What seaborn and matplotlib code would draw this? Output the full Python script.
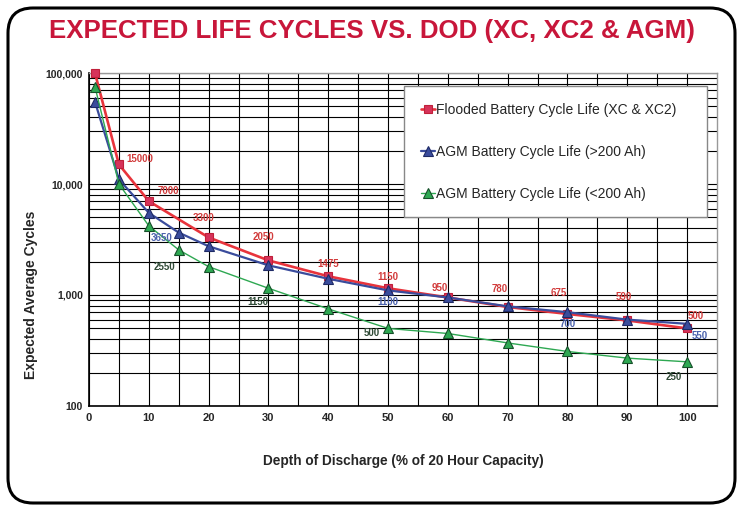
import numpy as np
import pandas as pd
import matplotlib.pyplot as plt
import seaborn as sns
from matplotlib.patches import FancyBboxPatch
from matplotlib.ticker import FixedLocator, FuncFormatter, LogLocator, NullFormatter

# data
dod_flooded = [1, 5, 10, 20, 30, 40, 50, 60, 70, 80, 90, 100]
cycles_flooded = [100000, 15000, 7000, 3300, 2050, 1475, 1150, 950, 780, 675, 590, 500]

dod_agm = [1, 5, 10, 15, 20, 30, 40, 50, 60, 70, 80, 90, 100]
cycles_agm_large = [55000, 11000, 5500, 3650, 2750, 1850, 1400, 1100, 950, 790, 700, 600, 550]
cycles_agm_small = [75000, 10000, 4200, 2550, 1800, 1150, 750, 500, 450, 370, 310, 270, 250]

series_names = ["Flooded Battery Cycle Life (XC & XC2)",
                "AGM Battery Cycle Life (>200 Ah)",
                "AGM Battery Cycle Life (<200 Ah)"]

# which points get a value label, and label offsets in pixels (dx, dy)
lab_flooded = {5: (21, 5), 10: (20, 10), 20: (-5, 19), 30: (-5, 23), 40: (0, 12),
               50: (0, 11), 60: (-8, 9), 70: (-8, 18), 80: (-9, 21), 90: (-3, 23),
               100: (9, 12)}
lab_large = {15: (-17, -5), 50: (0, -12), 80: (0, -12), 100: (13, -12)}
lab_small = {15: (-14, -17), 30: (-11, -14), 50: (-16, -5), 100: (-13, -15)}

df = pd.concat([
    pd.DataFrame({"dod": dod_flooded, "cycles": cycles_flooded, "series": series_names[0]}),
    pd.DataFrame({"dod": dod_agm, "cycles": cycles_agm_large, "series": series_names[1]}),
    pd.DataFrame({"dod": dod_agm, "cycles": cycles_agm_small, "series": series_names[2]}),
])

sns.set_style("white")
plt.rcParams["font.family"] = ["Liberation Sans", "DejaVu Sans"]

fig = plt.figure(figsize=(7.44, 5.11), dpi=100)
ax = fig.add_axes([89 / 744, 1 - 406 / 511, 628 / 744, 333 / 511])

styles = {
    series_names[0]: dict(color="#e8343c", marker="s", mfc="#d6335a", mec="#c0203a", lw=1.9, ms=5.5),
    series_names[1]: dict(color="#3a4c9c", marker="^", mfc="#3a4c9c", mec="#1e2a66", lw=1.6, ms=6.5),
    series_names[2]: dict(color="#2ea852", marker="^", mfc="#2ea852", mec="#16502a", lw=1.0, ms=6.5),
}
for name in series_names:
    st = styles[name]
    sub = df[df["series"] == name]
    sns.lineplot(data=sub, x="dod", y="cycles", ax=ax, color=st["color"], lw=st["lw"],
                 marker=st["marker"], markersize=st["ms"], markerfacecolor=st["mfc"],
                 markeredgecolor=st["mec"], markeredgewidth=0.8, label=name,
                 clip_on=False, zorder=3, legend=False)

ax.set_yscale("log")
ax.set_xlim(0, 105)
ax.set_ylim(100, 100000)

ax.xaxis.set_major_locator(FixedLocator(range(0, 101, 10)))
ax.xaxis.set_minor_locator(FixedLocator(range(5, 101, 10)))
ax.yaxis.set_major_locator(LogLocator(base=10))
ax.yaxis.set_minor_locator(LogLocator(base=10, subs=np.arange(2, 10)))
ax.yaxis.set_minor_formatter(NullFormatter())
ax.yaxis.set_major_formatter(FuncFormatter(lambda v, p: f"{int(v):,}"))

ax.grid(True, which="both", axis="both", color="black", lw=0.8, zorder=0)
ax.set_axisbelow(True)
ax.tick_params(axis="y", which="major", length=5, width=1, direction="inout", labelsize=7.5, pad=2)
ax.tick_params(axis="y", which="minor", length=0)
ax.tick_params(axis="x", which="major", length=4, width=1, direction="inout", labelsize=8, pad=3)
ax.tick_params(axis="x", which="minor", length=0)
for lab in ax.get_yticklabels() + ax.get_xticklabels():
    lab.set_fontweight("bold")

for sp in ["top", "right"]:
    ax.spines[sp].set_color("#999999")
    ax.spines[sp].set_linewidth(1.0)
for sp in ["left", "bottom"]:
    ax.spines[sp].set_color("black")
    ax.spines[sp].set_linewidth(1.2)

ax.set_xlabel("Depth of Discharge (% of 20 Hour Capacity)", fontsize=9.8, fontweight="bold",
              labelpad=22)
ax.set_ylabel("Expected Average Cycles", fontsize=10, fontweight="bold")
ax.yaxis.set_label_coords(-0.082, 0.335)


def put_labels(xs, ys, offsets, color):
    for x, y in zip(xs, ys):
        if x in offsets:
            dx, dy = offsets[x]
            ax.annotate(str(y), (x, y), xytext=(dx, dy), textcoords="offset pixels",
                        ha="center", va="center", fontsize=7, fontweight="bold",
                        color=color, zorder=4)


put_labels(dod_flooded, cycles_flooded, lab_flooded, "#d23c3c")
put_labels(dod_agm, cycles_agm_large, lab_large, "#4b62ad")
put_labels(dod_agm, cycles_agm_small, lab_small, "#2f4a36")

leg = ax.legend(loc="upper left", bbox_to_anchor=(0.5016, 0.55, 0.4825, 0.41), mode="expand",
                frameon=True, fancybox=False, fontsize=10, labelspacing=2.0, handlelength=1.0,
                handletextpad=0.1, borderpad=1.2, borderaxespad=0)
leg.get_frame().set_edgecolor("#888888")
leg.get_frame().set_linewidth(1.0)
leg.get_frame().set_alpha(1)
leg.set_zorder(5)

fig.text(0.5, 1 - 31 / 511, "EXPECTED LIFE CYCLES VS. DOD (XC, XC2 & AGM)", ha="center", va="center",
         fontsize=18.6, fontweight="bold", color="#c8163a")

border = FancyBboxPatch((0.08 + 0.25, 0.08 + 0.25), 7.27 - 0.5, 4.95 - 0.5,
                        boxstyle="round,pad=0.25", transform=fig.dpi_scale_trans,
                        fill=False, edgecolor="black", lw=2.2)
fig.patches.append(border)

fig.savefig("out.png", dpi=100)
